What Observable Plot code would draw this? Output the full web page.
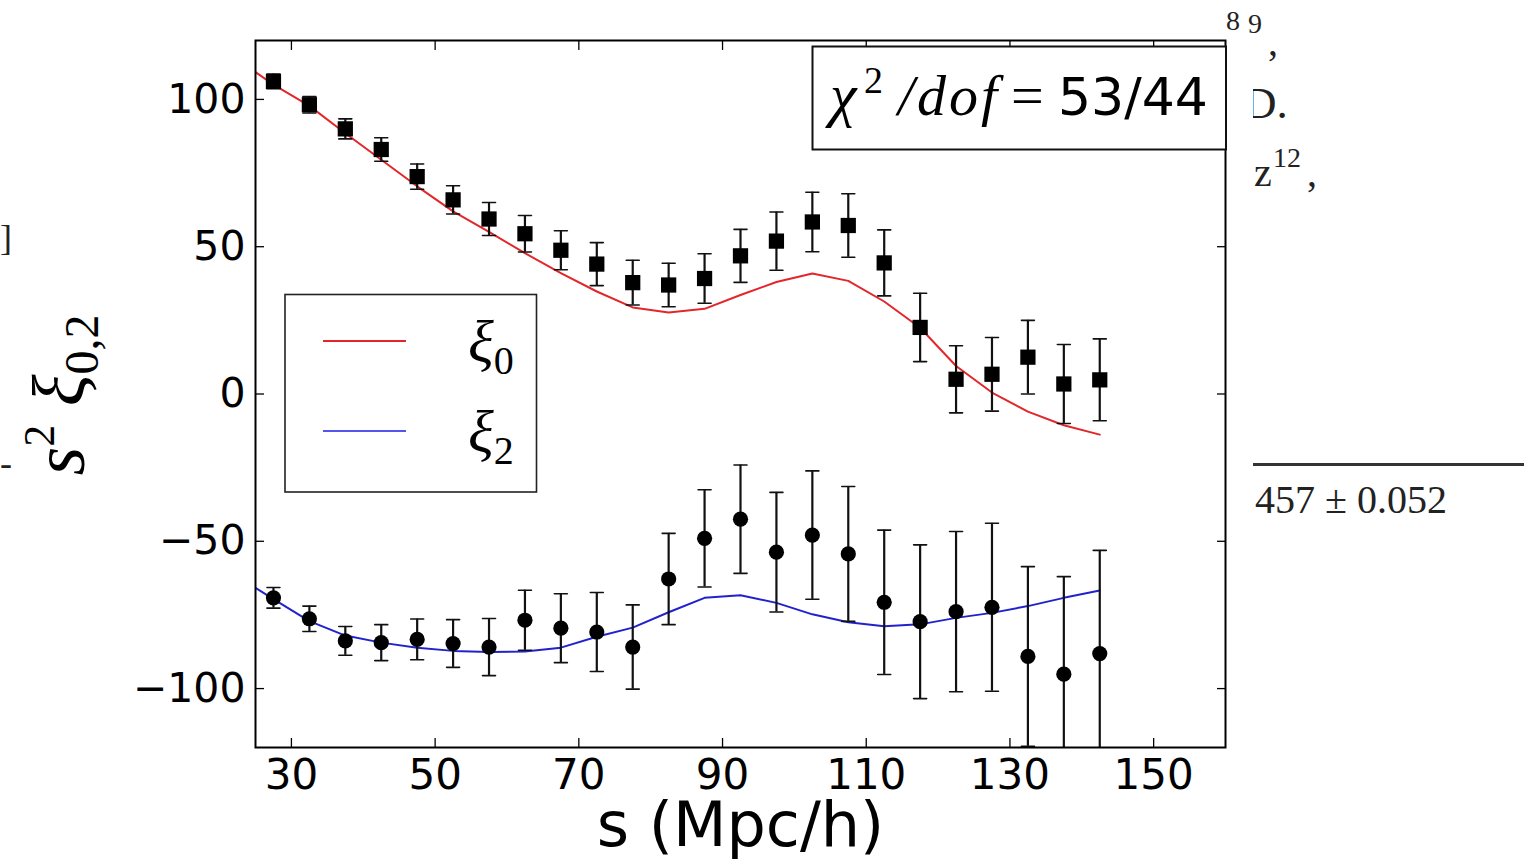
<!DOCTYPE html>
<html><head><meta charset="utf-8">
<script src="https://cdn.jsdelivr.net/npm/d3@7"></script>
<script src="https://cdn.jsdelivr.net/npm/@observablehq/plot@0.6"></script>
<style>
body{margin:0;background:#fff;}
#wrap{position:relative;width:1524px;height:861px;overflow:hidden;background:#fff;}
</style></head><body><div id="wrap"></div>
<script>
// bin centres (Mpc/h)
const s = [27.5, 32.5, 37.5, 42.5, 47.5, 52.5, 57.5, 62.5, 67.5, 72.5, 77.5, 82.5, 87.5, 92.5, 97.5, 102.5, 107.5, 112.5, 117.5, 122.5, 127.5, 132.5, 137.5, 142.5];
// monopole data (squares)
const xi0 = [106.1, 98.2, 90.0, 83.0, 73.8, 65.9, 59.4, 54.4, 48.8, 44.1, 37.8, 37.0, 39.2, 46.9, 51.9, 58.4, 57.2, 44.5, 22.6, 5.0, 6.7, 12.5, 3.4, 4.8];
const xi0Err = [2.5, 2.8, 3.4, 4.0, 4.3, 4.8, 5.6, 6.2, 6.6, 7.3, 7.6, 7.4, 8.4, 9.0, 9.9, 10.1, 10.8, 11.2, 11.6, 11.4, 12.5, 12.5, 13.4, 13.9];
// quadrupole data (circles)
const xi2 = [-69.2, -76.3, -83.8, -84.4, -83.3, -84.7, -85.9, -76.8, -79.5, -80.8, -85.9, -62.8, -49.0, -42.5, -53.7, -47.9, -54.3, -70.7, -77.3, -73.9, -72.4, -89.1, -95.1, -88.1];
const xi2Err = [3.5, 4.3, 4.9, 6.1, 6.9, 8.1, 9.7, 10.2, 11.7, 13.4, 14.3, 15.5, 16.5, 18.4, 20.3, 21.8, 22.9, 24.5, 26.1, 27.2, 28.5, 30.5, 33.1, 35.0];
// best-fit model
const modelS = [25, 27.5, 32.5, 37.5, 42.5, 47.5, 52.5, 57.5, 62.5, 67.5, 72.5, 77.5, 82.5, 87.5, 92.5, 97.5, 102.5, 107.5, 112.5, 117.5, 122.5, 127.5, 132.5, 137.5, 142.5];
const model0 = [109.3, 105.0, 97.8, 88.5, 79.5, 70.5, 62.0, 55.0, 47.8, 41.0, 34.8, 29.4, 27.7, 28.9, 33.6, 38.0, 40.9, 38.4, 31.4, 22.5, 9.5, 0.5, -6.0, -10.6, -13.8];
const model2 = [-65.8, -69.6, -77.1, -82.0, -84.4, -86.1, -87.2, -87.6, -87.4, -86.1, -82.4, -79.3, -74.1, -69.2, -68.3, -70.9, -74.8, -77.5, -78.8, -78.2, -76.0, -74.3, -72.0, -69.2, -66.7];
// ticks
const xTicks = [30, 50, 70, 90, 110, 130, 150];
const yTicks = [-100, -50, 0, 50, 100];

const RED = "#e3262a", BLUE = "#2222cc";

const d0 = s.map((v, i) => ({s: v, y: xi0[i], e: xi0Err[i]}));
const d2 = s.map((v, i) => ({s: v, y: xi2[i], e: xi2Err[i]}));
const caps = [...d0, ...d2].flatMap(d => [{s: d.s, y: d.y - d.e}, {s: d.s, y: d.y + d.e}]);
const m0 = modelS.map((v, i) => ({s: v, v: model0[i]}));
const m2 = modelS.map((v, i) => ({s: v, v: model2[i]}));
const capShape = {draw(ctx, l) { ctx.moveTo(-l / 2, 0); ctx.lineTo(l / 2, 0); }};

const chart = Plot.plot({
  width: 1524, height: 861,
  marginLeft: 255, marginRight: 299, marginTop: 40, marginBottom: 114,
  style: {fontFamily: "DejaVu Sans", background: "transparent", color: "black", overflow: "visible"},
  x: {domain: [25, 160]},
  y: {domain: [-120, 120]},
  marks: [
    Plot.line(m0, {x: "s", y: "v", stroke: RED, strokeWidth: 2, clip: true}),
    Plot.line(m2, {x: "s", y: "v", stroke: BLUE, strokeWidth: 2, clip: true}),
    Plot.ruleX([...d0, ...d2], {x: "s", y1: d => d.y - d.e, y2: d => d.y + d.e, stroke: "#111", strokeWidth: 2.2, clip: true}),
    Plot.vector(caps, {x: "s", y: "y", length: 13, anchor: "start", shape: capShape, stroke: "#111", strokeWidth: 1.6, clip: true}),
    Plot.dot(d0, {x: "s", y: "y", symbol: "square", r: 8.6, fill: "black", stroke: null}),
    Plot.dot(d2, {x: "s", y: "y", symbol: "circle", r: 7.6, fill: "black", stroke: null}),
    Plot.axisX(xTicks, {anchor: "bottom", tickSize: -9, tickPadding: 21, fontSize: 42, label: null, strokeWidth: 1.3}),
    Plot.axisX(xTicks, {anchor: "top", tickSize: -9, tickFormat: () => "", label: null, strokeWidth: 1.3}),
    Plot.axisY(yTicks, {anchor: "left", tickSize: -9, tickPadding: 19, fontSize: 41, label: null, strokeWidth: 1.3}),
    Plot.axisY(yTicks, {anchor: "right", tickSize: -9, tickFormat: () => "", label: null, strokeWidth: 1.3}),
    Plot.frame({stroke: "black", strokeWidth: 2}),
    Plot.text(["s (Mpc/h)"], {text: d => d, frameAnchor: "bottom", lineAnchor: "bottom", dy: 98, fontSize: 62})
  ]
});
document.getElementById("wrap").appendChild(chart);

const svg = d3.select(chart);
const SERIF = "Liberation Serif";

// paper background (beneath the chart)
const paper = svg.insert("g", ":first-child").attr("font-family", SERIF).attr("fill", "#222").attr("text-anchor", "start");
paper.append("text").attr("x", 1226).attr("y", 30).attr("font-size", 28).text("8");
paper.append("text").attr("x", 1248).attr("y", 33).attr("font-size", 28).text("9");
paper.append("text").attr("x", 1268).attr("y", 55).attr("font-size", 40).text(",");
paper.append("text").attr("x", 1244).attr("y", 118).attr("font-size", 45).text("D.");
paper.append("text").attr("x", 1254).attr("y", 186).attr("font-size", 40).text("z");
paper.append("text").attr("x", 1273).attr("y", 167).attr("font-size", 28).text("12");
paper.append("text").attr("x", 1307).attr("y", 186).attr("font-size", 40).text(",");
paper.append("rect").attr("x", 1253).attr("y", 463).attr("width", 280).attr("height", 3).attr("fill", "#333");
paper.append("text").attr("x", 1447).attr("y", 513).attr("text-anchor", "end").attr("font-size", 40).text("457 ± 0.052");
paper.append("text").attr("x", 0).attr("y", 250).attr("font-size", 36).text("]");
paper.append("text").attr("x", 0).attr("y", 475).attr("font-size", 36).text("-");
paper.append("rect").attr("x", 14).attr("y", 36).attr("width", 1239).attr("height", 830).attr("fill", "white");

const ov = svg.append("g").attr("text-anchor", "start").attr("fill", "black");
// y label
const yl = ov.append("text").attr("transform", "translate(84,395) rotate(-90)")
  .attr("text-anchor", "middle").attr("font-family", SERIF).attr("font-size", 74);
yl.append("tspan").attr("font-style", "italic").text("s");
yl.append("tspan").attr("font-size", 44).attr("dy", -30).text("2");
yl.append("tspan").attr("dy", 30).text(" ");
yl.append("tspan").attr("font-style", "italic").text("ξ");
yl.append("tspan").attr("font-size", 48).attr("dy", 14).text("0,2");

// legend
ov.append("rect").attr("x", 285).attr("y", 294.5).attr("width", 251.5).attr("height", 197.5)
  .attr("fill", "white").attr("stroke", "#222").attr("stroke-width", 1.6);
ov.append("line").attr("x1", 323).attr("x2", 406).attr("y1", 341).attr("y2", 341).attr("stroke", RED).attr("stroke-width", 2);
ov.append("line").attr("x1", 323).attr("x2", 406).attr("y1", 431).attr("y2", 431).attr("stroke", "#5555ee").attr("stroke-width", 2);
const l0 = ov.append("text").attr("x", 468).attr("y", 362).attr("font-family", SERIF).attr("font-size", 60);
l0.append("tspan").attr("font-style", "italic").text("ξ");
l0.append("tspan").attr("font-size", 40).attr("dy", 12).text("0");
const l2 = ov.append("text").attr("x", 468).attr("y", 452).attr("font-family", SERIF).attr("font-size", 60);
l2.append("tspan").attr("font-style", "italic").text("ξ");
l2.append("tspan").attr("font-size", 40).attr("dy", 12).text("2");

// chi^2 box
ov.append("rect").attr("x", 812.5).attr("y", 46.5).attr("width", 413.5).attr("height", 103)
  .attr("fill", "white").attr("stroke", "#111").attr("stroke-width", 2);
ov.append("text").attr("x", 830).attr("y", 115).attr("font-family", SERIF).attr("font-style", "italic").attr("font-size", 60).text("χ");
ov.append("text").attr("x", 864).attr("y", 93).attr("font-family", SERIF).attr("font-size", 38).text("2");
ov.append("text").attr("x", 898).attr("y", 115).attr("font-family", SERIF).attr("font-style", "italic").attr("font-size", 58).attr("letter-spacing", 3).text("/dof");
ov.append("text").attr("x", 1011).attr("y", 115).attr("font-family", SERIF).attr("font-size", 58).text("=");
ov.append("text").attr("x", 1058).attr("y", 115).attr("font-family", "DejaVu Sans").attr("font-size", 52).text("53/44");
</script></body></html>
